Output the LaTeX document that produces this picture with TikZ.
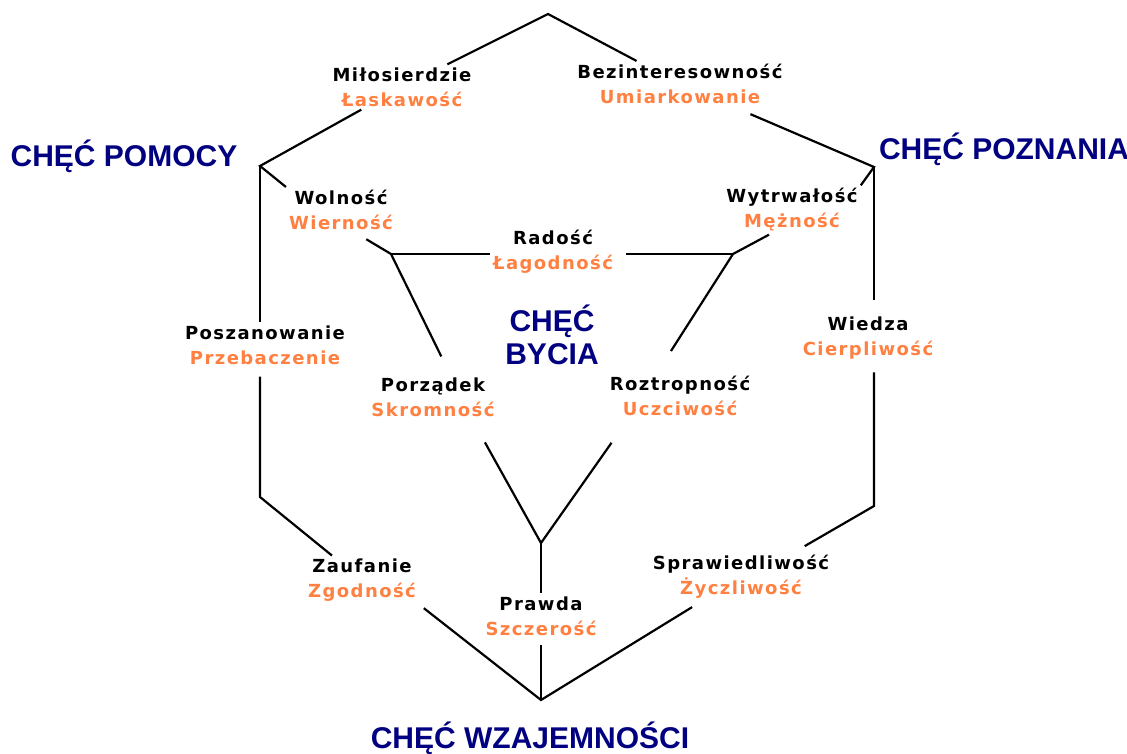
\documentclass[tikz,border=0pt]{standalone}
\usepackage{fontspec}
\setmainfont{DejaVu Sans}
\newfontfamily\virtuefont[LetterSpace=8]{DejaVu Sans}
\newfontfamily\titlefont{Liberation Sans}
\usepackage{xcolor}
\definecolor{titleblue}{RGB}{0,0,128}
\definecolor{virtueorange}{RGB}{255,128,64}
\usetikzlibrary{calc}

\begin{document}
\begin{tikzpicture}[x=1pt, y=-1pt, virtue/.style={align=center, inner sep=3pt, font=\virtuefont\bfseries\fontsize{18}{25}\selectfont}, title/.style={text=titleblue, inner sep=0pt, font=\titlefont\bfseries\fontsize{30}{33}\selectfont}, link/.style={line width=2.2pt}]
    \useasboundingbox (0,0) rectangle (1127,754);

    \coordinate (top) at (548,14);
    \coordinate (ul) at (260,166);
    \coordinate (ur) at (874,167);
    \coordinate (ll) at (260,497);
    \coordinate (lr) at (874,506);
    \coordinate (bot) at (541,700);
    \coordinate (lf) at (391,254);
    \coordinate (rf) at (733,254);
    \coordinate (yj) at (541,543);

    \node[virtue] (milo) at (402,87) {Miłosierdzie\\\textcolor{virtueorange}{Łaskawość}};
    \node[virtue] (bezi) at (680,84) {Bezinteresowność\\\textcolor{virtueorange}{Umiarkowanie}};
    \node[virtue] (wol) at (341,210) {Wolność\\\textcolor{virtueorange}{Wierność}};
    \node[virtue] (wyt) at (792,210) {Wytrwałość\\\textcolor{virtueorange}{Mężność}};
    \node[virtue] (rado) at (553,252) {Radość\\\textcolor{virtueorange}{Łagodność}};
    \node[virtue] (posz) at (265,345) {Poszanowanie\\\textcolor{virtueorange}{Przebaczenie}};
    \node[virtue] (wied) at (868,338) {Wiedza\\\textcolor{virtueorange}{Cierpliwość}};
    \node[virtue] (porz) at (433,397) {Porządek\\\textcolor{virtueorange}{Skromność}};
    \node[virtue] (rozt) at (680,396) {Roztropność\\\textcolor{virtueorange}{Uczciwość}};
    \node[virtue] (zauf) at (362,580) {Zaufanie\\\textcolor{virtueorange}{Zgodność}};
    \node[virtue] (praw) at (541,616) {Prawda\\\textcolor{virtueorange}{Szczerość}};
    \node[virtue] (spra) at (741,577) {Sprawiedliwość\\\textcolor{virtueorange}{Życzliwość}};

    \node[title, anchor=base] (pomoc) at (124,167) {CHĘĆ POMOCY};
    \node[title, anchor=base] (pozn) at (1004,160) {CHĘĆ POZNANIA};
    \node[title, anchor=base] (wzaj) at (530,748) {CHĘĆ WZAJEMNOŚCI};
    \node[title, align=center] (bycie) at (552,335) {CHĘĆ\\BYCIA};

    \draw[link] (milo) -- (top) -- (bezi);
    \draw[link] (milo) -- (ul) -- (wol.north west);
    \draw[link, shorten <=18pt] (bezi) -- (ur) -- (wyt.north east);
    \draw[link] (ul) -- (ul |- posz.north);
    \draw[link, shorten <=9pt] (ll |- posz.south) -- (ll) -- (zauf);
    \draw[link, shorten >=14pt] (ur) -- (ur |- wied.north);
    \draw[link, shorten <=10pt, shorten >=12pt] (lr |- wied.south) -- (lr) -- (spra.25);
    \draw[link, shorten <=6pt, shorten >=10pt] (zauf.south east) -- (bot) -- (spra);
    \draw[link, shorten <=6pt] (praw) -- (bot);

    \draw[link, shorten >=12pt] (lf) -- (wol.-57);
    \draw[link] (lf) -- (lf -| rado.west);
    \draw[link, shorten >=20pt] (lf) -- (porz.53);
    \draw[link] (rf) -- (wyt.-133);
    \draw[link, shorten <=10pt] (rf -| rado.east) -- (rf);
    \draw[link, shorten >=26pt] (rf) -- (rozt.135);
    \draw[link, shorten >=26pt] (yj) -- (porz.-30);
    \draw[link, shorten >=29pt] (yj) -- (rozt.-156);
    \draw[link] (yj) -- (praw);
\end{tikzpicture}
\end{document}
